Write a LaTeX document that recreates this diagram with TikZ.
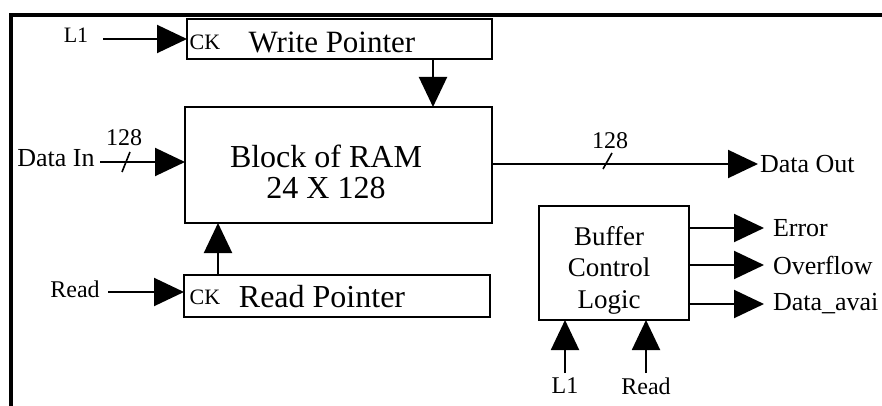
\documentclass[tikz,border=0pt]{standalone}
\usepackage{fontspec}
\setmainfont{Liberation Serif}
\usetikzlibrary{arrows.meta}
\newcommand{\fs}[1]{\fontsize{#1}{1.2\dimexpr#1pt\relax}\selectfont}
\begin{document}
\begin{tikzpicture}[x=0.5pt, y=-0.5pt,
    every node/.style={inner sep=0pt, outer sep=0pt},
    box/.style={draw, line width=1pt, rectangle},
    sig/.style={line width=1pt, -{Triangle[length=15pt, width=14pt]}},
    frame/.style={line width=1.8pt}]
  \useasboundingbox (0,0) rectangle (882,406);
  % Frame
  \draw[frame] (11,406) -- (11,15) -- (882,15);

  % Write pointer
  \node (wp) [box, minimum width=152.5pt, minimum height=20pt] at (339.5,39) {};
  \node (wpck) at (205,42) {\fs{11}CK};
  \node (wpt) at (332,42) {\fs{15.5}Write Pointer};
  \node (l1a) at (76,35) {\fs{11}L1};
  \coordinate (l1s) at (103,39);
  \draw[sig] (l1s) -- (wp.west);

  % Block of RAM
  \node (ram) [box, minimum width=153.5pt, minimum height=58pt] at (338.5,165) {};
  \node (ramt) at (326,172) [align=center, font=\fontsize{16}{15.75}\selectfont] {Block of RAM\\24 X 128};
  \draw[sig] ([xshift=46.75pt]wp.south) -- ([xshift=46.75pt]wp.south |- ram.north);

  % Data in
  \node (din) at (56,158) {\fs{13}Data In};
  \coordinate (dins) at (100,162);
  \draw[sig] (dins) -- (dins -| ram.west);
  \draw[line width=0.8pt] (122,172) -- (130,152);
  \node (dinw) at (124,138) {\fs{12}128};

  % Data out
  \coordinate (dout) at (758,164);
  \draw[sig] (dout -| ram.east) -- (dout);
  \node (doutt) [anchor=west] at (760,164) {\fs{13}Data Out};
  \draw[line width=0.8pt] (603,169) -- (612,153);
  \node (doutw) at (610,141) {\fs{12}128};

  % Read pointer
  \node (rp) [box, minimum width=153pt, minimum height=21pt] at (337,296) {};
  \node (rpck) at (205,297) {\fs{11}CK};
  \node (rpt) at (322,297) {\fs{16}Read Pointer};
  \node (rda) at (75,289) {\fs{12}Read};
  \coordinate (rds) at (108,292);
  \draw[sig] (rds) -- (rds -| rp.west);
  \draw[sig] ([xshift=-59.5pt]rp.north) -- ([xshift=-59.5pt]rp.north |- ram.south);

  % Buffer control logic
  \node (bcl) [box, minimum width=75pt, minimum height=57pt] at (614,263) {};
  \node (bclt) at (609,270) [align=center, font=\fontsize{13.5}{15.75}\selectfont] {Buffer\\Control\\Logic};
  \foreach \y/\n/\t in {228/err/Error, 265/ovf/Overflow, 304/dav/Data\_avai} {
    \coordinate (\n) at (764,\y);
    \draw[sig] (\n -| bcl.east) -- (\n);
    \node (\n t) [anchor=west] at (773,\y) {\fs{13}\t};
  }
  \foreach \x/\n/\t in {565/bl1/L1, 646/brd/Read} {
    \coordinate (\n) at (\x,373);
    \draw[sig] (\n) -- (\n |- bcl.south);
    \node (\n t) at (\x,386) {\fs{12}\t};
  }
\end{tikzpicture}
\end{document}
